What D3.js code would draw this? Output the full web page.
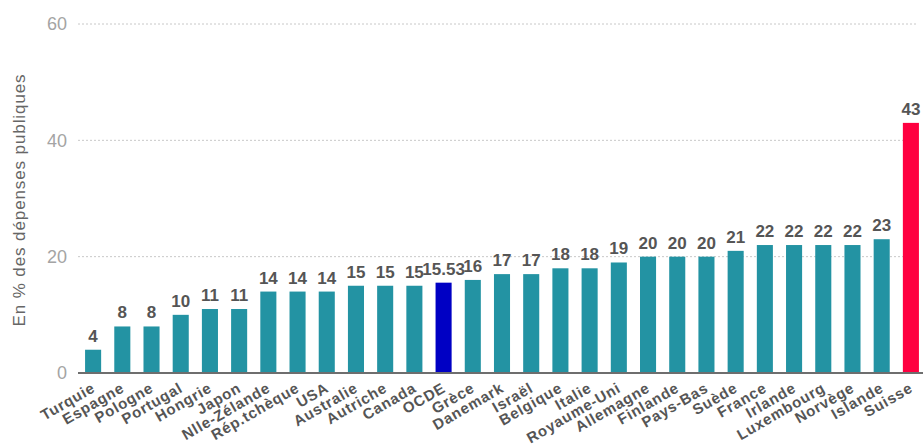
<!DOCTYPE html>
<html lang="fr">
<head>
<meta charset="UTF-8">
<title>Dépenses publiques</title>
<script src="https://cdn.jsdelivr.net/npm/d3@7"></script>
<style>
  body { margin: 0; background: #fff; }
  text { font-family: "Liberation Sans", Arial, sans-serif; }
</style>
</head>
<body>
<svg id="chart" width="923" height="448"></svg>
<script>
// data
var pays = ["Turquie","Espagne","Pologne","Portugal","Hongrie","Japon","Nlle-Zélande","Rép.tchèque","USA",
            "Australie","Autriche","Canada","OCDE","Grèce","Danemark","Israël","Belgique","Italie",
            "Royaume-Uni","Allemagne","Finlande","Pays-Bas","Suède","France","Irlande","Luxembourg",
            "Norvège","Islande","Suisse"];
var valeurs = [4,8,8,10,11,11,14,14,14,15,15,15,15.53,16,17,17,18,18,19,20,20,20,21,22,22,22,22,23,43];
var yTicks = [0,20,40,60];
var titreY = "En % des dépenses publiques";

var svg = d3.select("#chart");

var x = d3.scaleBand().domain(pays).range([78.5, 925.5]).paddingInner(0.45).paddingOuter(0.225);
var y = d3.scaleLinear().domain([0, 60]).range([373, 24]);

function couleur(p){
    if (p == "OCDE") return "#0000c4";
    if (p == "Suisse") return "#ff0040";
    return "#2393a3";
}

// grid lines
svg.append("g")
  .selectAll("line")
  .data(yTicks.filter(d => d > 0))
  .enter()
  .append("line")
  .attr("x1", 78).attr("x2", 918)
  .attr("y1", d => y(d)).attr("y2", d => y(d))
  .attr("stroke", "#c8c8c8")
  .attr("stroke-dasharray", "2,2")
  .attr("stroke-width", 1);

// y labels
svg.append("g")
  .selectAll("text")
  .data(yTicks)
  .enter()
  .append("text")
  .attr("x", 67)
  .attr("y", d => y(d))
  .attr("dy", "0.35em")
  .attr("text-anchor", "end")
  .attr("font-size", 18)
  .attr("fill", "#a4a4a4")
  .text(d => d);

svg.append("text")
  .attr("transform", "translate(25,200) rotate(-90)")
  .attr("text-anchor", "middle")
  .attr("font-size", 17)
  .attr("letter-spacing", 0.9)
  .attr("fill", "#666")
  .text(titreY);

// bars
svg.append("g")
  .selectAll("rect")
  .data(pays)
  .enter()
  .append("rect")
  .attr("x", d => x(d))
  .attr("width", x.bandwidth())
  .attr("y", (d, i) => y(valeurs[i]))
  .attr("height", (d, i) => y(0) - y(valeurs[i]))
  .attr("fill", d => couleur(d));

// baseline
svg.append("line")
  .attr("x1", 78).attr("x2", 923)
  .attr("y1", y(0)).attr("y2", y(0))
  .attr("stroke", "#6e6e6e")
  .attr("stroke-width", 2);

// values
svg.append("g")
  .selectAll("text")
  .data(pays)
  .enter()
  .append("text")
  .attr("x", d => x(d) + x.bandwidth() / 2)
  .attr("y", (d, i) => y(valeurs[i]) - 8)
  .attr("text-anchor", "middle")
  .attr("font-size", 17)
  .attr("font-weight", "bold")
  .attr("fill", "#555")
  .text((d, i) => valeurs[i]);

// x labels
svg.append("g")
  .selectAll("text")
  .data(pays)
  .enter()
  .append("text")
  .attr("transform", d => "translate(" + (x(d) + x.bandwidth() / 2 + 3) + ",391) rotate(-30)")
  .attr("text-anchor", "end")
  .attr("font-size", 15)
  .attr("font-weight", "bold")
  .attr("letter-spacing", 0.8)
  .attr("fill", "#555")
  .text(d => d);
</script>
</body>
</html>
